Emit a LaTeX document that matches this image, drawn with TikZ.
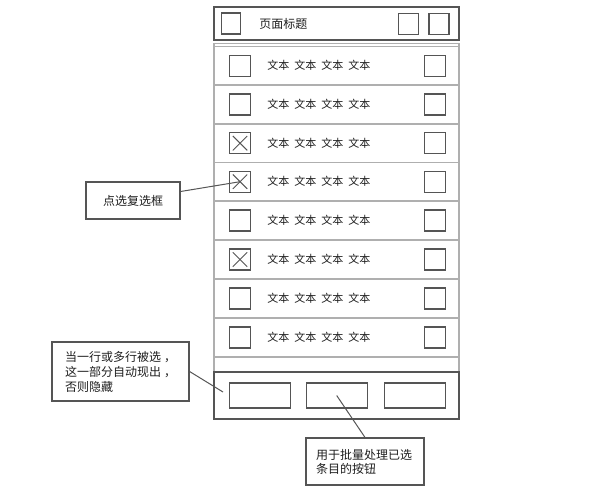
\documentclass[tikz,border=0pt]{standalone}
\usepackage{fontspec}
\setmainfont{Noto Sans CJK SC}
\usetikzlibrary{positioning}
\definecolor{linedark}{RGB}{85, 85, 85}
\definecolor{linelight}{RGB}{175, 175, 175}
\definecolor{textdark}{RGB}{30, 30, 30}
\newcommand{\rowlabel}{文本\hspace{5pt}文本\hspace{5pt}文本\hspace{5pt}文本}

\begin{document}
\begin{tikzpicture}[x=1pt, y=-1pt,
        box/.style={draw=linedark, line width=1.3pt, minimum width=21pt, minimum height=21pt, inner sep=0pt},
        rowtext/.style={anchor=west, inner sep=0pt, text=textdark, font=\fontsize{11}{13}\selectfont},
        btn/.style={draw=linedark, line width=1.3pt, minimum width=61pt, minimum height=25pt, inner sep=0pt},
        note/.style={draw=linedark, line width=1.2pt, text=textdark, align=left, inner sep=0pt, font=\fontsize{12}{15}\selectfont},
        sep/.style={draw=linelight, line width=1.2pt},
        bar/.style={draw=linedark, line width=1.3pt},
        link/.style={draw=linedark, line width=1pt},
        tick/.style={draw=linedark, line width=1pt}
    ]
        \useasboundingbox (0,0) rectangle (600,499);

        % phone frame
        \draw[sep] (214,43.5) rectangle (459,372);
        \draw[sep] (214,46.5) -- (459,46.5);
        \draw[sep] (214,85) -- (459,85);
        \draw[sep] (214,124) -- (459,124);
        \draw[sep] (214,162.5) -- (459,162.5);
        \draw[sep] (214,201) -- (459,201);
        \draw[sep] (214,240) -- (459,240);
        \draw[sep] (214,279) -- (459,279);
        \draw[sep] (214,318) -- (459,318);
        \draw[sep] (214,357) -- (459,357);
        \draw[bar] (214,7) rectangle (459,40);
        \draw[bar] (214,372) rectangle (459,419);

        % header
        \node[box, minimum width=19pt] (menu) at (231, 23.5) {};
        \node[rowtext, font=\fontsize{12}{14}\selectfont, right=18pt of menu] (title) {页面标题};
        \node[box, minimum width=20pt] (search) at (408.5, 24) {};
        \node[box, minimum width=20pt] (more) at (439, 24) {};

        % rows
        \node[box] (chk1) at (240, 65.7) {};
        \node[rowtext, right=16pt of chk1] (txt1) {\rowlabel};
        \node[box] (ico1) at (435, 65.7) {};

        \node[box] (chk2) at (240, 104.5) {};
        \node[rowtext, right=16pt of chk2] (txt2) {\rowlabel};
        \node[box] (ico2) at (435, 104.5) {};

        \node[box] (chk3) at (240, 143.2) {};
        \node[rowtext, right=16pt of chk3] (txt3) {\rowlabel};
        \node[box] (ico3) at (435, 143.2) {};

        \node[box] (chk4) at (240, 181.7) {};
        \node[rowtext, right=16pt of chk4] (txt4) {\rowlabel};
        \node[box] (ico4) at (435, 181.7) {};

        \node[box] (chk5) at (240, 220.5) {};
        \node[rowtext, right=16pt of chk5] (txt5) {\rowlabel};
        \node[box] (ico5) at (435, 220.5) {};

        \node[box] (chk6) at (240, 259.5) {};
        \node[rowtext, right=16pt of chk6] (txt6) {\rowlabel};
        \node[box] (ico6) at (435, 259.5) {};

        \node[box] (chk7) at (240, 298.5) {};
        \node[rowtext, right=16pt of chk7] (txt7) {\rowlabel};
        \node[box] (ico7) at (435, 298.5) {};

        \node[box] (chk8) at (240, 337.5) {};
        \node[rowtext, right=16pt of chk8] (txt8) {\rowlabel};
        \node[box] (ico8) at (435, 337.5) {};

        % ticked boxes
        \draw[tick] ([shift={(4,4)}]chk3.north west) -- ([shift={(-4,-4)}]chk3.south east);
        \draw[tick] ([shift={(-4,4)}]chk3.north east) -- ([shift={(4,-4)}]chk3.south west);
        \draw[tick] ([shift={(4,4)}]chk4.north west) -- ([shift={(-4,-4)}]chk4.south east);
        \draw[tick] ([shift={(-4,4)}]chk4.north east) -- ([shift={(4,-4)}]chk4.south west);
        \draw[tick] ([shift={(4,4)}]chk6.north west) -- ([shift={(-4,-4)}]chk6.south east);
        \draw[tick] ([shift={(-4,4)}]chk6.north east) -- ([shift={(4,-4)}]chk6.south west);

        % bottom bar
        \node[btn] (btn1) at (260, 395.5) {};
        \node[btn] (btn2) at (336.7, 395.5) {};
        \node[btn] (btn3) at (415, 395.5) {};

        % notes
        \node[note, minimum width=94pt, minimum height=37pt, align=center] (note-select) at (133, 200.5) {点选复选框};
        \node[note, minimum width=137pt, minimum height=59pt] (note-bar) at (120.5, 371.5) {当一行或多行被选\hspace{3pt}，\\这一部分自动现出\hspace{3pt}，\\否则隐藏};
        \node[note, minimum width=118pt, minimum height=47pt, text width=98pt, font=\fontsize{12}{14}\selectfont] (note-btn) at (365, 461.5) {用于批量处理已选\\条目的按钮};

        \coordinate (bar-tip) at (223, 392);
        \draw[link] ([shift={(0,-9)}]note-select.east) -- (chk4.center);
        \draw[link] (note-bar.east) -- (bar-tip);
        \draw[link] (btn2.center) -- (note-btn.north);
    \end{tikzpicture}
\end{document}
